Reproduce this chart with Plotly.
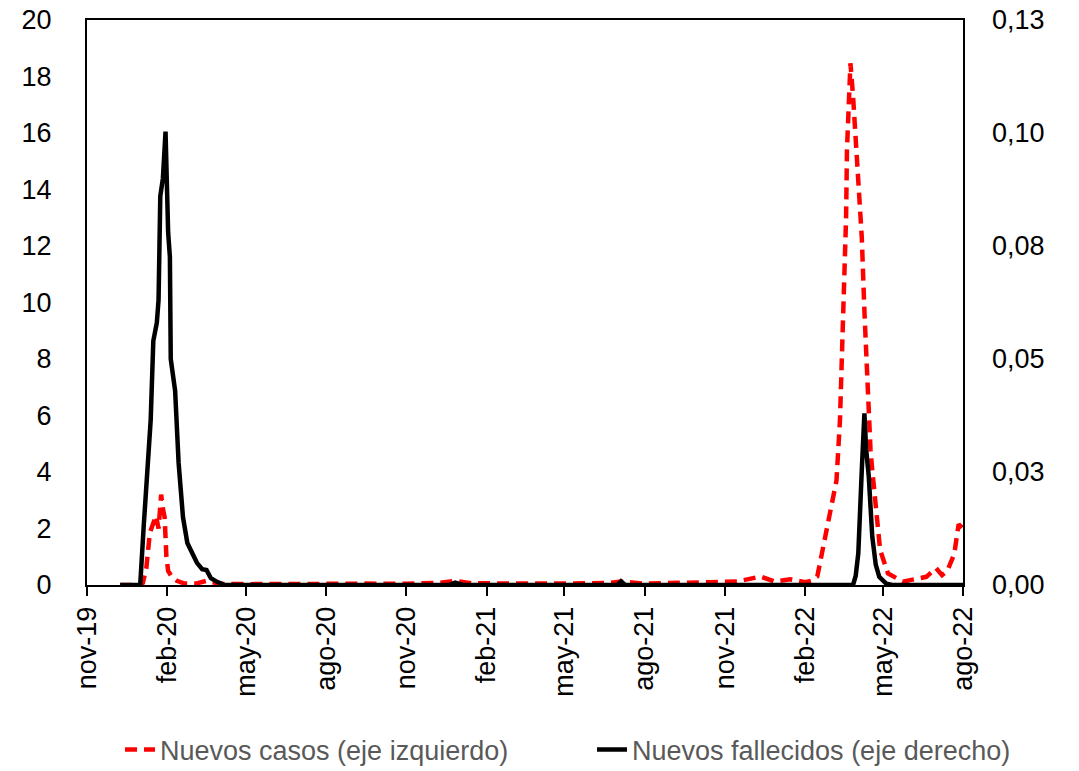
import plotly.graph_objects as go

# ---- Data ----
casos_fechas = [
    "2019-12-09", "2020-01-01", "2020-01-04", "2020-01-08", "2020-01-12", "2020-01-16",
    "2020-01-19", "2020-01-22", "2020-01-25", "2020-01-27", "2020-01-29", "2020-01-31",
    "2020-02-02", "2020-02-06", "2020-02-12", "2020-02-20", "2020-03-05", "2020-03-17",
    "2020-04-01", "2020-05-01", "2020-06-15", "2020-08-01", "2020-09-15", "2020-11-01",
    "2020-12-10", "2020-12-27", "2021-01-15", "2021-03-01", "2021-05-01", "2021-06-20",
    "2021-07-05", "2021-08-01", "2021-09-15", "2021-10-15", "2021-11-15", "2021-12-12",
    "2021-12-28", "2022-01-15", "2022-02-01", "2022-02-08", "2022-02-15", "2022-02-22",
    "2022-03-02", "2022-03-09", "2022-03-13", "2022-03-16", "2022-03-18", "2022-03-20",
    "2022-03-21", "2022-03-23", "2022-03-25", "2022-03-28", "2022-03-31", "2022-04-04",
    "2022-04-07", "2022-04-10", "2022-04-11", "2022-04-14", "2022-04-17", "2022-04-19",
    "2022-04-22", "2022-04-25", "2022-04-28", "2022-05-07", "2022-05-24", "2022-06-20",
    "2022-07-01", "2022-07-08", "2022-07-14", "2022-07-22", "2022-07-27", "2022-08-01",
]
casos_valores = [
    0, 0, 0.07, 0.6, 1.84, 2.2,
    2.45, 2.0, 3.2, 2.7, 2.4, 1.0,
    0.5, 0.3, 0.15, 0.06, 0.05, 0.15,
    0.04, 0.03, 0.05, 0.04, 0.05, 0.04,
    0.08, 0.15, 0.06, 0.04, 0.05, 0.07,
    0.12, 0.05, 0.06, 0.1, 0.12, 0.3,
    0.12, 0.2, 0.1, 0.15, 0.3, 1.36,
    2.77, 3.7, 5.84, 9.0, 10.7, 13.0,
    15.4, 17.3, 18.47, 17.3, 15.6, 14.0,
    12.3, 9.7, 8.9, 6.4, 4.78, 4.07,
    3.2, 2.0, 1.24, 0.41, 0.12, 0.29,
    0.6, 0.35, 0.5, 1.1, 2.15, 2.0,
]

fallecidos_fechas = [
    "2019-12-09", "2020-01-01", "2020-01-05", "2020-01-09", "2020-01-13", "2020-01-16",
    "2020-01-20", "2020-01-22", "2020-01-24", "2020-01-27", "2020-01-30", "2020-02-02",
    "2020-02-04", "2020-02-05", "2020-02-10", "2020-02-14", "2020-02-19", "2020-02-24",
    "2020-03-06", "2020-03-12", "2020-03-17", "2020-03-22", "2020-03-29", "2020-04-07",
    "2020-12-20", "2020-12-27", "2021-01-05", "2021-07-01", "2021-07-05", "2021-07-10",
    "2022-03-28", "2022-03-31", "2022-04-03", "2022-04-07", "2022-04-10", "2022-04-12",
    "2022-04-15", "2022-04-19", "2022-04-23", "2022-04-27", "2022-05-05", "2022-05-12",
    "2022-08-01",
]
fallecidos_valores = [
    0, 0, 0.013, 0.025, 0.0365, 0.054,
    0.058, 0.063, 0.086, 0.09, 0.1003, 0.078,
    0.0726, 0.050, 0.043, 0.027, 0.015, 0.0093,
    0.0049, 0.0035, 0.0033, 0.0015, 0.0007, 0,
    0, 0.0005, 0, 0, 0.0008, 0,
    0, 0.002, 0.007, 0.0254, 0.038, 0.030,
    0.024, 0.0107, 0.0045, 0.0018, 0.0003, 0,
    0,
]

x_tick_vals = [
    "2019-11-01", "2020-02-01", "2020-05-01", "2020-08-01", "2020-11-01", "2021-02-01",
    "2021-05-01", "2021-08-01", "2021-11-01", "2022-02-01", "2022-05-01", "2022-08-01",
]
x_tick_text = [
    "nov-19", "feb-20", "may-20", "ago-20", "nov-20", "feb-21",
    "may-21", "ago-21", "nov-21", "feb-22", "may-22", "ago-22",
]
y2_tick_vals = [0, 0.025, 0.05, 0.075, 0.1, 0.125]
y2_tick_text = ["0,00", "0,03", "0,05", "0,08", "0,10", "0,13"]

FONT = "Liberation Sans, Arial, sans-serif"
LEGEND_FONT = dict(family=FONT, size=27, color="#595959")

fig = go.Figure()
fig.add_trace(go.Scatter(
    x=casos_fechas, y=casos_valores, mode="lines",
    name="Nuevos casos (eje izquierdo)",
    line=dict(color="#ff0000", width=4.5, dash="12px,7px"),
    yaxis="y", legend="legend",
))
fig.add_trace(go.Scatter(
    x=fallecidos_fechas, y=fallecidos_valores, mode="lines",
    name="Nuevos fallecidos (eje derecho)",
    line=dict(color="#000000", width=4.5),
    yaxis="y2", legend="legend2",
))

fig.update_layout(
    width=1079, height=771,
    margin=dict(l=87, r=116, t=20, b=186, autoexpand=False),
    paper_bgcolor="white", plot_bgcolor="white",
    font=dict(family=FONT, size=27, color="black"),
    showlegend=True,
    legend=dict(
        orientation="h", x=0.0377, xanchor="left", y=-0.292, yanchor="middle",
        font=LEGEND_FONT, bgcolor="rgba(0,0,0,0)",
    ),
    legend2=dict(
        orientation="h", x=0.5765, xanchor="left", y=-0.292, yanchor="middle",
        font=LEGEND_FONT, bgcolor="rgba(0,0,0,0)",
    ),
    xaxis=dict(
        type="date", range=["2019-11-01", "2022-08-01"],
        tickmode="array", tickvals=x_tick_vals, ticktext=x_tick_text,
        tickangle=-90, ticks="outside", ticklen=9, tickwidth=1.5, tickcolor="black",
        showgrid=False, zeroline=False, automargin=False,
        showline=True, linecolor="black", linewidth=2, mirror=True,
        tickfont=dict(family=FONT, size=27, color="black"),
        ticklabeloverflow="allow",
    ),
    yaxis=dict(
        range=[0, 20], dtick=2, tick0=0, showgrid=False, zeroline=False,
        showline=True, linecolor="black", linewidth=2, mirror=True,
        ticks="", ticklabelstandoff=28, automargin=False,
        tickfont=dict(family=FONT, size=27, color="black"),
        ticklabeloverflow="allow",
    ),
    yaxis2=dict(
        range=[0, 0.125], overlaying="y", side="right",
        tickmode="array", tickvals=y2_tick_vals, ticktext=y2_tick_text,
        showgrid=False, zeroline=False, showline=False,
        ticks="", ticklabelstandoff=28, automargin=False,
        tickfont=dict(family=FONT, size=27, color="black"),
        ticklabeloverflow="allow",
    ),
)

fig.write_html(
    "out.html",
    config={"displayModeBar": False},
    post_script="document.body.style.margin='0';",
)
